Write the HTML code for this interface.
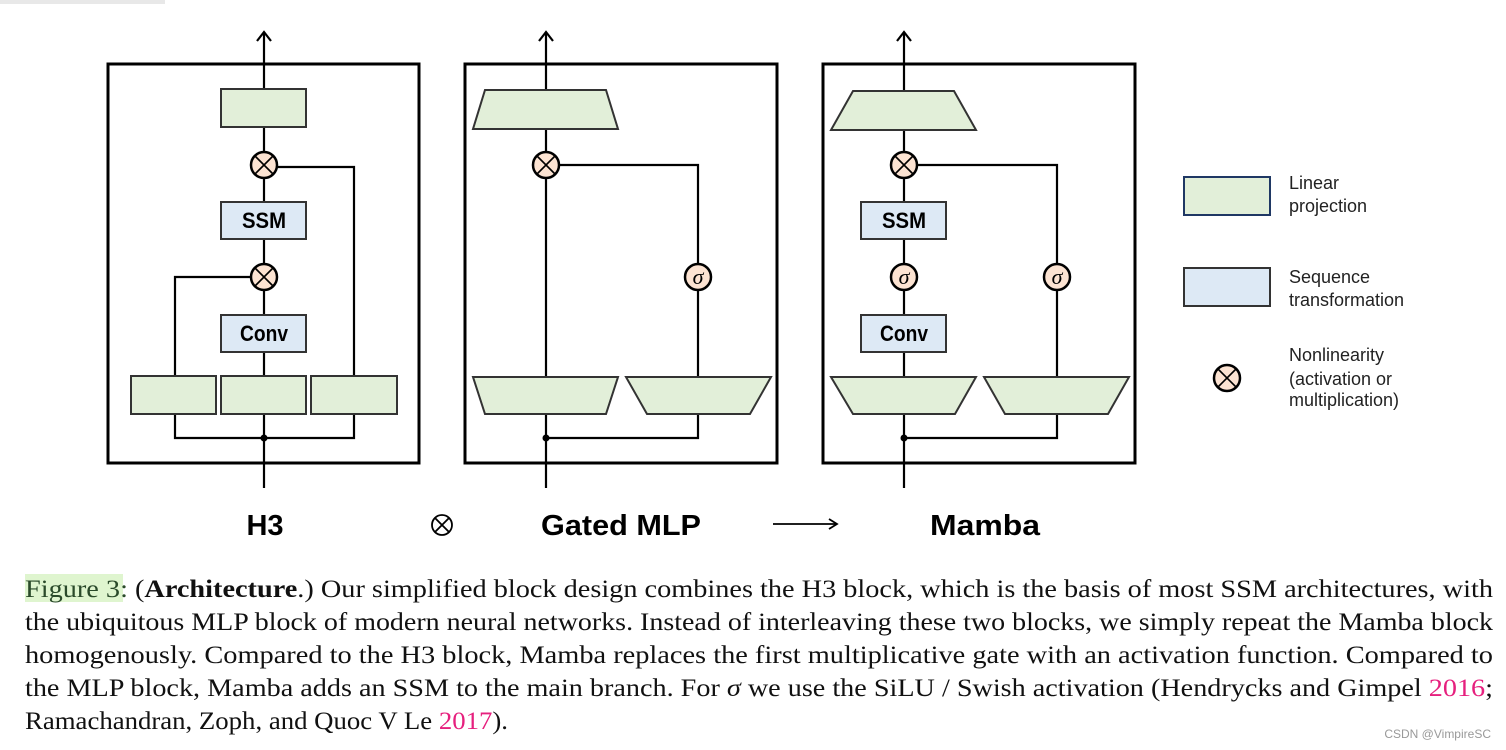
<!DOCTYPE html>
<html><head><meta charset="utf-8"><style>
html,body{margin:0;padding:0;background:#fff;}
svg{display:block;}
</style></head><body>
<svg width="1506" height="750" viewBox="0 0 1506 750" xmlns="http://www.w3.org/2000/svg">
<defs>
<g id="ot"><circle r="13" fill="#fce3d2" stroke="#000" stroke-width="2.5"/><path d="M-9,-9 L9,9 M9,-9 L-9,9" stroke="#000" stroke-width="1.6"/></g>
<g id="sg"><circle r="13" fill="#fce3d2" stroke="#000" stroke-width="2.5"/><text x="0" y="7" text-anchor="middle" font-family="Liberation Serif, serif" font-style="italic" font-size="22">σ</text></g>
</defs>
<rect x="0" y="0" width="165" height="4" fill="#e8e8e8"/>
<g fill="none" stroke="#000" stroke-width="2.2">
<rect x="108" y="64" width="311" height="399" stroke-width="3"/>
<line x1="264" y1="488" x2="264" y2="32"/>
<polyline points="175,376 175,277 264,277"/>
<polyline points="354,376 354,167 264,167"/>
<polyline points="175,414 175,438 354,438 354,414"/>
<rect x="465" y="64" width="312" height="399" stroke-width="3"/>
<line x1="546" y1="488" x2="546" y2="32"/>
<polyline points="546,165 698,165 698,376"/>
<polyline points="698,414 698,438 546,438"/>
<rect x="823" y="64" width="312" height="399" stroke-width="3"/>
<line x1="904" y1="488" x2="904" y2="32"/>
<polyline points="904,165 1057,165 1057,377"/>
<polyline points="1057,414 1057,438 904,438"/>
</g>
<g stroke="#000" stroke-width="2.2" fill="none">
<polyline points="257,41 264,32 271,41"/>
<polyline points="539,41 546,32 553,41"/>
<polyline points="897,41 904,32 911,41"/>
</g>
<g fill="#000"><circle cx="264" cy="438" r="3.5"/><circle cx="546" cy="438" r="3.5"/><circle cx="904" cy="438" r="3.5"/></g>
<g stroke="#333" stroke-width="2">
<rect x="221" y="89" width="85" height="38" fill="#e2efd9"/>
<rect x="221" y="202" width="85" height="37" fill="#dde9f5"/>
<rect x="221" y="315" width="85" height="37" fill="#dde9f5"/>
<rect x="131" y="376" width="85" height="38" fill="#e2efd9"/>
<rect x="221" y="376" width="85" height="38" fill="#e2efd9"/>
<rect x="311" y="376" width="86" height="38" fill="#e2efd9"/>
<polygon points="485,90 606,90 618,129 473,129" fill="#e2efd9"/>
<polygon points="473,377 618,377 606,414 485,414" fill="#e2efd9"/>
<polygon points="626,377 771,377 750,414 647,414" fill="#e2efd9"/>
<polygon points="853,91 954,91 976,130 831,130" fill="#e2efd9"/>
<rect x="861" y="202" width="85" height="37" fill="#dde9f5"/>
<rect x="861" y="315" width="85" height="37" fill="#dde9f5"/>
<polygon points="831,377 976,377 955,414 853,414" fill="#e2efd9"/>
<polygon points="984,377 1129,377 1108,414 1005,414" fill="#e2efd9"/>
<rect x="1184" y="177" width="86" height="38" fill="#e2efd9" stroke="#1f3864"/>
<rect x="1184" y="268" width="86" height="38" fill="#dde9f5"/>
</g>
<use href="#ot" x="264" y="165"/>
<use href="#ot" x="264" y="277"/>
<use href="#ot" x="546" y="165"/>
<use href="#sg" x="698" y="277"/>
<use href="#ot" x="904" y="165"/>
<use href="#sg" x="904" y="277"/>
<use href="#sg" x="1057" y="277"/>
<use href="#ot" x="1227" y="378"/>
<g font-family="Liberation Sans, sans-serif" font-weight="bold" font-size="22" text-anchor="middle">
<text x="264" y="228" textLength="44" lengthAdjust="spacingAndGlyphs">SSM</text><text x="264" y="341" textLength="48" lengthAdjust="spacingAndGlyphs">Conv</text>
<text x="904" y="228" textLength="44" lengthAdjust="spacingAndGlyphs">SSM</text><text x="904" y="341" textLength="48" lengthAdjust="spacingAndGlyphs">Conv</text>
</g>
<g font-family="Liberation Sans, sans-serif" font-weight="bold" font-size="29" text-anchor="middle">
<text x="265" y="535">H3</text>
<text x="621" y="535" textLength="160" lengthAdjust="spacingAndGlyphs">Gated MLP</text>
<text x="985" y="535" textLength="110" lengthAdjust="spacingAndGlyphs">Mamba</text>
</g>
<g stroke="#000" stroke-width="1.8" fill="none">
<circle cx="442" cy="525" r="10"/><path d="M435,518 L449,532 M449,518 L435,532"/>
<line x1="773" y1="524" x2="836" y2="524"/><polyline points="829,519 837,524 829,529"/>
</g>
<g font-family="Liberation Sans, sans-serif" font-size="18" fill="#222">
<text x="1289" y="189">Linear</text><text x="1289" y="212">projection</text>
<text x="1289" y="283">Sequence</text><text x="1289" y="306">transformation</text>
<text x="1289" y="361">Nonlinearity</text><text x="1289" y="385">(activation or</text><text x="1289" y="406">multiplication)</text>
</g>
<rect x="25" y="574" width="98" height="28" fill="#dff5cf"/>
<g font-family="Liberation Serif, serif" font-size="25" fill="#111">
<text x="25" y="597" textLength="1468" lengthAdjust="spacingAndGlyphs"><tspan fill="#2a4a2a">Figure 3:</tspan> (<tspan font-weight="bold">Architecture</tspan>.) Our simplified block design combines the H3 block, which is the basis of most SSM architectures, with</text>
<text x="25" y="630" textLength="1468" lengthAdjust="spacingAndGlyphs">the ubiquitous MLP block of modern neural networks. Instead of interleaving these two blocks, we simply repeat the Mamba block</text>
<text x="25" y="663" textLength="1468" lengthAdjust="spacingAndGlyphs">homogenously. Compared to the H3 block, Mamba replaces the first multiplicative gate with an activation function. Compared to</text>
<text x="25" y="696" textLength="1468" lengthAdjust="spacingAndGlyphs">the MLP block, Mamba adds an SSM to the main branch. For <tspan font-style="italic">σ</tspan> we use the SiLU / Swish activation (Hendrycks and Gimpel <tspan fill="#e6207e">2016</tspan>;</text>
<text x="25" y="729" textLength="483" lengthAdjust="spacingAndGlyphs">Ramachandran, Zoph, and Quoc V Le <tspan fill="#e6207e">2017</tspan>).</text>
</g>
<text x="1491" y="738" text-anchor="end" font-family="Liberation Sans, sans-serif" font-size="12" fill="#999">CSDN @VimpireSC</text>
</svg>
</body></html>
